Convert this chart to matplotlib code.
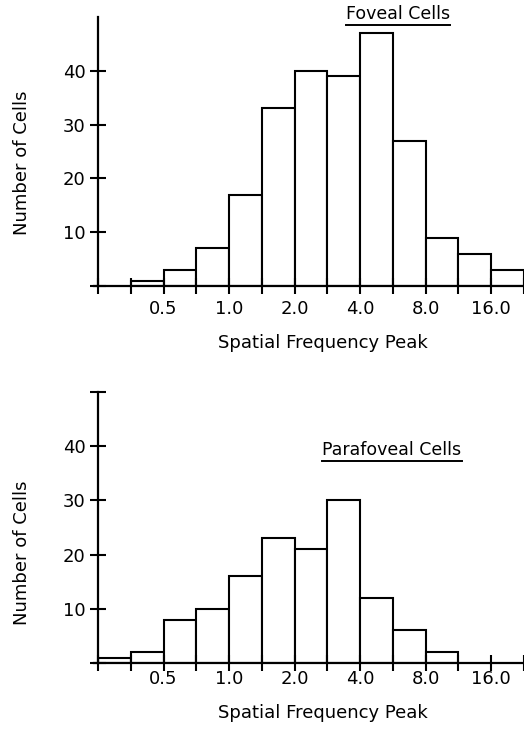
"""Spatial frequency peak histograms for foveal and parafoveal cells."""

import matplotlib

matplotlib.use("Agg")
import matplotlib.pyplot as plt  # noqa: E402
import numpy as np  # noqa: E402
from matplotlib.lines import Line2D  # noqa: E402

# half-octave bins, spatial frequency in c/deg
FOVEAL_EDGES = [0.354, 0.5, 0.707, 1.0, 1.414, 2.0, 2.828, 4.0, 5.657, 8.0,
                11.31, 16.0, 22.63]
FOVEAL_COUNTS = [1, 3, 7, 17, 33, 40, 39, 47, 27, 9, 6, 3]

PARAFOVEAL_EDGES = [0.25, 0.354, 0.5, 0.707, 1.0, 1.414, 2.0, 2.828, 4.0,
                    5.657, 8.0, 11.31]
PARAFOVEAL_COUNTS = [1, 2, 8, 10, 16, 23, 21, 30, 12, 6, 2]

X_TICKS = [0.25, 0.354, 0.5, 0.707, 1.0, 1.414, 2.0, 2.828, 4.0, 5.657, 8.0,
           11.31, 16.0, 22.63]
X_LABELED = [0.5, 1.0, 2.0, 4.0, 8.0, 16.0]
X_LABELS = ["0.5", "1.0", "2.0", "4.0", "8.0", "16.0"]

Y_TICKS_TOP = [0, 10, 20, 30, 40]
Y_TICKS_BOTTOM = [0, 10, 20, 30, 40, 50]

plt.rcParams["font.family"] = ["DejaVu Sans"]

W, H = 524, 734
fig = plt.figure(figsize=(W / 100, H / 100), dpi=100)
FS = 13


def px_axes(left, top, bottom):
    return fig.add_axes([left / W, 1 - bottom / H, 1 - left / W,
                         (bottom - top) / H])


def hist_panel(ax, edges, counts, yticks, xpad, xlab_y, ylab_y):
    edges = np.asarray(edges)
    ax.bar(edges[:-1], counts, width=np.diff(edges), align="edge",
           facecolor="white", edgecolor="black", linewidth=1.5)
    ax.set_xscale("log", base=2)
    ax.set_xlim(0.25, 22.63)
    ax.set_ylim(0, 50)
    minor = [t for t in X_TICKS if t not in X_LABELED]
    ax.set_xticks(X_LABELED)
    ax.set_xticklabels(X_LABELS)
    ax.set_xticks(minor, minor=True)
    ax.set_xticklabels([], minor=True)
    ax.set_yticks(yticks)
    ax.set_yticklabels(["" if t in (0, 50) else str(t) for t in yticks])
    ax.tick_params(which="both", direction="inout", length=12, width=1.5,
                   labelsize=FS)
    ax.tick_params(axis="x", pad=xpad)
    ax.tick_params(axis="y", length=12, pad=3)
    for s in ("top", "right"):
        ax.spines[s].set_visible(False)
    for s in ("left", "bottom"):
        ax.spines[s].set_linewidth(1.6)
    ax.spines["bottom"].set_bounds(0.24, 22.63)
    ax.set_xlabel("Spatial Frequency Peak", fontsize=FS, va="center")
    ax.set_ylabel("Number of Cells", fontsize=FS, va="center")
    ax.xaxis.set_label_coords(0.528, xlab_y)
    ax.yaxis.set_label_coords(-0.178, ylab_y)


ax1 = px_axes(98, 17, 286)
hist_panel(ax1, FOVEAL_EDGES, FOVEAL_COUNTS, Y_TICKS_TOP,
           xpad=4, xlab_y=-0.212, ylab_y=0.457)
ax2 = px_axes(98, 392, 663)
hist_panel(ax2, PARAFOVEAL_EDGES, PARAFOVEAL_COUNTS, Y_TICKS_BOTTOM,
           xpad=-1, xlab_y=-0.185, ylab_y=0.406)

titles = [
    fig.text(398 / W, 1 - 14 / H, "Foveal Cells", ha="center", va="center",
             fontsize=12.5),
    fig.text(392 / W, 1 - 450 / H, "Parafoveal Cells", ha="center",
             va="center", fontsize=12.5),
]

fig.canvas.draw()
for t in titles:
    bb = t.get_window_extent()
    y = (bb.y0 - 2) / H
    fig.add_artist(Line2D([bb.x0 / W, bb.x1 / W], [y, y], color="black",
                          linewidth=1.4, transform=fig.transFigure))

fig.savefig("out.png", dpi=100)
